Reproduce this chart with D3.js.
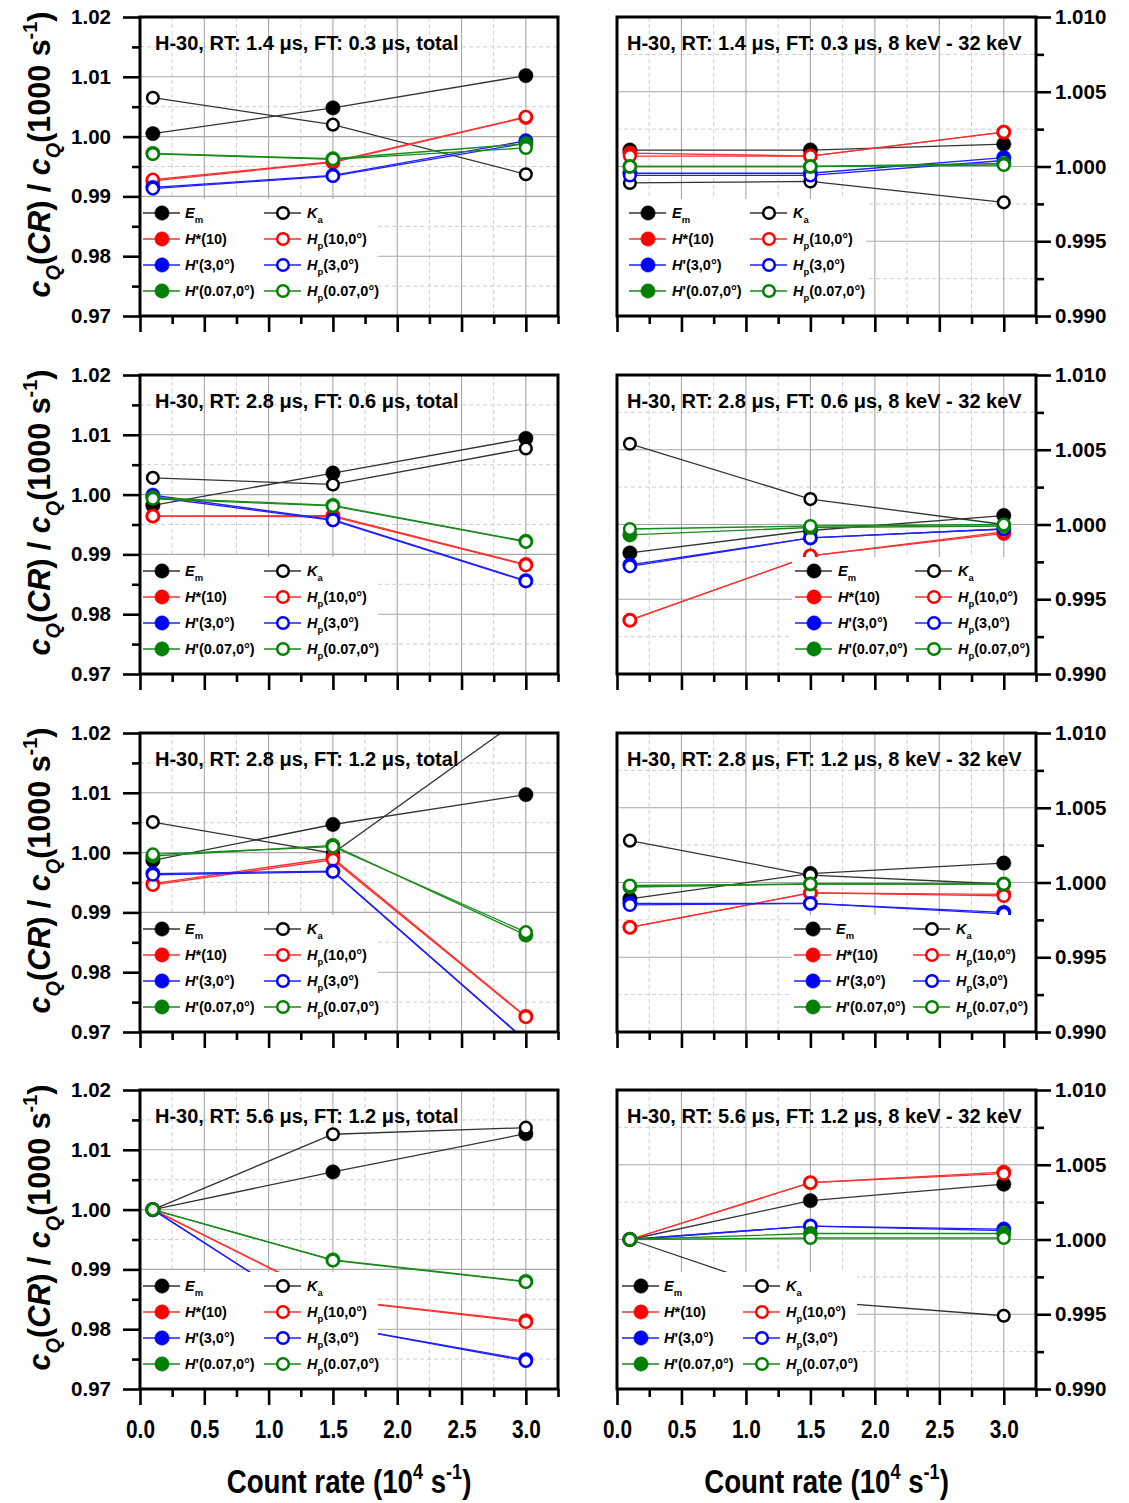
<!DOCTYPE html>
<html><head><meta charset="utf-8">
<script src="https://cdn.jsdelivr.net/npm/d3@7"></script>
<style>body{margin:0;background:#fff}</style>
</head><body><svg id="c" width="1129" height="1503"></svg>
<script>
// ---------------- data ----------------
const countRates = [0.1, 1.5, 3.0];
const seriesKeys = ["Em", "Ka", "H*(10)", "Hp(10,0°)", "H'(3,0°)", "Hp(3,0°)", "H'(0.07,0°)", "Hp(0.07,0°)"];
const xTickLabels = ["0.0", "0.5", "1.0", "1.5", "2.0", "2.5", "3.0"];
const yTickLabelsTotal = ["0.97", "0.98", "0.99", "1.00", "1.01", "1.02"];
const yTickLabelsBand = ["0.990", "0.995", "1.000", "1.005", "1.010"];
const panelTitles = [
  "H-30, RT: 1.4 \u03bcs, FT: 0.3 \u03bcs, total",
  "H-30, RT: 1.4 \u03bcs, FT: 0.3 \u03bcs, 8 keV - 32 keV",
  "H-30, RT: 2.8 \u03bcs, FT: 0.6 \u03bcs, total",
  "H-30, RT: 2.8 \u03bcs, FT: 0.6 \u03bcs, 8 keV - 32 keV",
  "H-30, RT: 2.8 \u03bcs, FT: 1.2 \u03bcs, total",
  "H-30, RT: 2.8 \u03bcs, FT: 1.2 \u03bcs, 8 keV - 32 keV",
  "H-30, RT: 5.6 \u03bcs, FT: 1.2 \u03bcs, total",
  "H-30, RT: 5.6 \u03bcs, FT: 1.2 \u03bcs, 8 keV - 32 keV"
];
// each: [Em, Ka, H*(10), Hp(10), H'(3), Hp(3), H'(0.07), Hp(0.07)] at countRates
const rt14ft03_total = [
  [1.0005, 1.0048, 1.0102], [1.0065, 1.0020, 0.9937],
  [0.9926, 0.9957, 1.0032], [0.9928, 0.9958, 1.0033],
  [0.9915, 0.9935, 0.9993], [0.9913, 0.9934, 0.9989],
  [0.9972, 0.9963, 0.9988], [0.9971, 0.9962, 0.9981]
];
const rt14ft03_band = [
  [1.0011, 1.0011, 1.0015], [0.9989, 0.9990, 0.9976],
  [1.0009, 1.0007, 1.0023], [1.0007, 1.0007, 1.0023],
  [0.99955, 0.99955, 1.0006], [0.9994, 0.9994, 1.0004],
  [1.0000, 1.0000, 1.0002], [1.0000, 1.0000, 1.0001]
];
const rt28ft06_total = [
  [0.9982, 1.0036, 1.0094], [1.0028, 1.0017, 1.0077],
  [0.9964, 0.9965, 0.9883], [0.9964, 0.9963, 0.9882],
  [0.9999, 0.9958, 0.9856], [0.9996, 0.9957, 0.9855],
  [0.9995, 0.9982, 0.9922], [0.9993, 0.9981, 0.9921]
];
const rt28ft06_band = [
  [0.9981, 0.9996, 1.0006], [1.0054, 1.0017, 1.0000],
  [0.9936, 0.9979, 0.9994], [0.9936, 0.9979, 0.9995],
  [0.9973, 0.9991, 0.9997], [0.9972, 0.9991, 0.9997],
  [0.9993, 0.9998, 0.9999], [0.9997, 0.9999, 1.0000]
];
const rt28ft12_total = [
  [0.9987, 1.0047, 1.0097], [1.0051, 0.9999, 1.0230],
  [0.9948, 0.9991, 0.9726], [0.9946, 0.9988, 0.9725],
  [0.9965, 0.9969, 0.9686], [0.9963, 0.9968, 0.9685],
  [0.9994, 1.0012, 0.9862], [0.9997, 1.0010, 0.9867]
];
const rt28ft12_band = [
  [0.9989, 1.0006, 1.0013], [1.0028, 1.0005, 0.9999],
  [0.9970, 0.9993, 0.9992], [0.9970, 0.9993, 0.9991],
  [0.9986, 0.9986, 0.9980], [0.9985, 0.9986, 0.9979],
  [0.9997, 0.9999, 0.9999], [0.9998, 0.9999, 0.9999]
];
const rt56ft12_total = [
  [1.0000, 1.0063, 1.0127], [1.0000, 1.0126, 1.0137],
  [1.0000, 0.9850, 0.9814], [1.0000, 0.9849, 0.9812],
  [1.0000, 0.9806, 0.9749], [1.0000, 0.9806, 0.9747],
  [1.0000, 0.9916, 0.9880], [1.0000, 0.9915, 0.9879]
];
const rt56ft12_band = [
  [1.0000, 1.0026, 1.0037], [1.0000, 0.9959, 0.9949],
  [1.0000, 1.0038, 1.0045], [1.0000, 1.0038, 1.0044],
  [1.0000, 1.0009, 1.0007], [1.0000, 1.0009, 1.0006],
  [1.0000, 1.0004, 1.0004], [1.0000, 1.0001, 1.0001]
];
const panelData = [rt14ft03_total, rt14ft03_band, rt28ft06_total, rt28ft06_band,
                   rt28ft12_total, rt28ft12_band, rt56ft12_total, rt56ft12_band];

// ---------------- styles / layout ----------------
const colors = ["#000", "#000", "#ff0000", "#ff0000", "#0000ff", "#0000ff", "#008000", "#008000"];
const lineColors = ["#333", "#333", "#ff3030", "#ff3030", "#2020ff", "#2020ff", "#1a8a1a", "#1a8a1a"];
const filled = [true, false, true, false, true, false, true, false];
const legendLabels = [
  [{t: "E", it: 1}, {t: "m", sub: 1}],
  [{t: "K", it: 1}, {t: "a", sub: 1}],
  [{t: "H", it: 1}, {t: "*(10)"}],
  [{t: "H", it: 1}, {t: "p", sub: 1}, {t: "(10,0°)"}],
  [{t: "H", it: 1}, {t: "'(3,0°)"}],
  [{t: "H", it: 1}, {t: "p", sub: 1}, {t: "(3,0°)"}],
  [{t: "H", it: 1}, {t: "'(0.07,0°)"}],
  [{t: "H", it: 1}, {t: "p", sub: 1}, {t: "(0.07,0°)"}]
];
const FONT = "'Liberation Sans', Arial, sans-serif";

const cols = [{L: 140, R: 558}, {L: 617, R: 1036}];
const rows = [{T: 17, B: 316}, {T: 375, B: 674}, {T: 733, B: 1032}, {T: 1090, B: 1389}];
const legendLeft = {x0: 140, x1: 378, m1: 162, l1: 185, m2: 283, l2: 307};
const legendRight = [
  {x0: 617, x1: 866, m1: 648, l1: 672, m2: 769, l2: 793},
  {x0: 791, x1: 1036, m1: 814, l1: 838, m2: 934, l2: 958},
  {x0: 791, x1: 1036, m1: 813, l1: 836, m2: 932, l2: 956},
  {x0: 617, x1: 857, m1: 641, l1: 664, m2: 762, l2: 786}
];

const svg = d3.select("#c");
svg.append("rect").attr("width", 1129).attr("height", 1503).attr("fill", "#fff");

function richText(sel, parts, size) {
  let shift = 0;
  parts.forEach(p => {
    const ts = sel.append("tspan").text(p.t);
    const target = p.sub ? size * 0.32 : (p.sup ? -size * 0.42 : 0);
    if (target !== shift) { ts.attr("dy", target - shift); shift = target; }
    if (p.it) ts.attr("font-style", "italic");
    if (p.sub || p.sup) ts.attr("font-size", size * 0.65);
  });
}

function range(a, b, s) { const out = []; for (let v = a; v <= b + 1e-9; v += s) out.push(+v.toFixed(5)); return out; }

const xMajor = xTickLabels.map(Number);
const xMinor = range(0.25, 3.25, 0.5);

panelData.forEach((data, idx) => {
  const col = idx % 2, row = Math.floor(idx / 2);
  const {L, R} = cols[col], {T, B} = rows[row];
  const total = col === 0;
  const yLabels = total ? yTickLabelsTotal : yTickLabelsBand;
  const yMajor = yLabels.map(Number);
  const yMinor = total ? range(0.975, 1.015, 0.01) : range(0.9925, 1.0075, 0.005);
  const x = d3.scaleLinear().domain([0, 3.25]).range([L, R]);
  const y = d3.scaleLinear().domain([yMajor[0], yMajor[yMajor.length - 1]]).range([B, T]);
  const g = svg.append("g");

  // grid
  const grid = g.append("g");
  grid.selectAll(".gmx").data(xMinor).join("line")
    .attr("x1", d => x(d)).attr("x2", d => x(d)).attr("y1", T).attr("y2", B)
    .attr("stroke", "#cfcfcf").attr("stroke-width", 1).attr("stroke-dasharray", "4,3");
  grid.selectAll(".gmy").data(yMinor).join("line")
    .attr("y1", d => y(d)).attr("y2", d => y(d)).attr("x1", L).attr("x2", R)
    .attr("stroke", "#cfcfcf").attr("stroke-width", 1).attr("stroke-dasharray", "4,3");
  grid.selectAll(".gx").data(xMajor.slice(1)).join("line")
    .attr("x1", d => x(d)).attr("x2", d => x(d)).attr("y1", T).attr("y2", B)
    .attr("stroke", "#a8a8a8").attr("stroke-width", 1.1);
  grid.selectAll(".gy").data(yMajor.slice(1, -1)).join("line")
    .attr("y1", d => y(d)).attr("y2", d => y(d)).attr("x1", L).attr("x2", R)
    .attr("stroke", "#a8a8a8").attr("stroke-width", 1.1);

  // clip
  const cid = "clip" + idx;
  svg.append("clipPath").attr("id", cid).append("rect")
    .attr("x", L).attr("y", T).attr("width", R - L).attr("height", B - T);
  const plot = g.append("g").attr("clip-path", `url(#${cid})`);
  const line = d3.line().x((d, i) => x(countRates[i])).y(d => y(d));
  data.forEach((vals, s) => {
    const sg = plot.append("g");
    sg.append("path").attr("d", line(vals)).attr("fill", "none")
      .attr("stroke", lineColors[s]).attr("stroke-width", 1.3);
    sg.selectAll("circle").data(vals).join("circle")
      .attr("cx", (d, i) => x(countRates[i])).attr("cy", d => y(d))
      .attr("r", filled[s] ? 7.2 : 5.8)
      .attr("fill", filled[s] ? colors[s] : "#fff")
      .attr("stroke", colors[s]).attr("stroke-width", filled[s] ? 0.5 : 2.5);
  });

  // legend
  const lc = total ? legendLeft : legendRight[row];
  const lg = g.append("g");
  lg.append("rect").attr("x", lc.x0 + 1).attr("y", B - 117).attr("width", lc.x1 - lc.x0 - 1).attr("height", 116)
    .attr("fill", "#fff");
  const rowOff = [103, 77, 51, 25];
  seriesKeys.forEach((k, s) => {
    const c = s % 2, r = Math.floor(s / 2);
    const cy = B - rowOff[r];
    const mx = c === 0 ? lc.m1 : lc.m2, lx = c === 0 ? lc.l1 : lc.l2;
    lg.append("line").attr("x1", mx - 19).attr("x2", mx + 18).attr("y1", cy).attr("y2", cy)
      .attr("stroke", lineColors[s]).attr("stroke-width", 1.3);
    lg.append("circle").attr("cx", mx).attr("cy", cy).attr("r", filled[s] ? 7.2 : 5.8)
      .attr("fill", filled[s] ? colors[s] : "#fff").attr("stroke", colors[s])
      .attr("stroke-width", filled[s] ? 0.5 : 2.5);
    const t = lg.append("text").attr("x", lx).attr("y", cy + 5)
      .attr("font-family", FONT).attr("font-weight", "bold").attr("font-size", 14.5).attr("fill", "#000");
    richText(t, legendLabels[s], 14.5);
  });

  // frame
  g.append("rect").attr("x", L).attr("y", T).attr("width", R - L).attr("height", B - T)
    .attr("fill", "none").attr("stroke", "#000").attr("stroke-width", 3);

  // axes
  const xa = g.append("g").attr("transform", `translate(0,${B})`)
    .call(d3.axisBottom(x).tickValues(xMajor).tickSize(16).tickPadding(15)
      .tickFormat((d, i) => row === 3 ? xTickLabels[i] : ""));
  const xm = g.append("g").attr("transform", `translate(0,${B})`)
    .call(d3.axisBottom(x).tickValues(xMinor).tickSize(8).tickFormat(""));
  let ya, ym;
  if (total) {
    ya = g.append("g").attr("transform", `translate(${L},0)`)
      .call(d3.axisLeft(y).tickValues(yMajor).tickSize(17).tickPadding(12).tickFormat((d, i) => yLabels[i]));
    ym = g.append("g").attr("transform", `translate(${L},0)`)
      .call(d3.axisLeft(y).tickValues(yMinor).tickSize(8).tickFormat(""));
  } else {
    ya = g.append("g").attr("transform", `translate(${R},0)`)
      .call(d3.axisRight(y).tickValues(yMajor).tickSize(15).tickPadding(4).tickFormat((d, i) => yLabels[i]));
    ym = g.append("g").attr("transform", `translate(${R},0)`)
      .call(d3.axisRight(y).tickValues(yMinor).tickSize(8).tickFormat(""));
  }
  [xa, xm, ya, ym].forEach(a => {
    a.select(".domain").remove();
    a.selectAll(".tick line").attr("stroke", "#000").attr("stroke-width", 2.6);
  });
  xa.selectAll("text").attr("font-family", FONT).attr("font-weight", "bold")
    .attr("font-size", 26).attr("fill", "#000").attr("transform", "scale(0.8,1)");
  ya.selectAll("text").attr("font-family", FONT).attr("font-weight", "bold")
    .attr("font-size", 20.5).attr("fill", "#000");

  // panel title
  g.append("text").attr("x", L + (total ? 15 : 10)).attr("y", T + 33)
    .attr("font-family", FONT).attr("font-weight", "bold").attr("font-size", 20)
    .attr("fill", "#000").text(panelTitles[idx]);

  // y-axis title (left column only)
  if (total) {
    const yt = g.append("text")
      .attr("transform", `translate(50,${(T + B) / 2 - 12}) rotate(-90)`)
      .attr("text-anchor", "middle").attr("font-family", FONT).attr("font-weight", "bold")
      .attr("font-size", 30.5).attr("fill", "#000");
    richText(yt, [{t: "c", it: 1}, {t: "Q", sub: 1, it: 1}, {t: "("}, {t: "CR", it: 1}, {t: ") / "},
      {t: "c", it: 1}, {t: "Q", sub: 1, it: 1}, {t: "(1000 s"}, {t: "-1", sup: 1}, {t: ")"}], 30.5);
  }
});

// x-axis titles
cols.forEach(c => {
  const t = svg.append("text")
    .attr("transform", `translate(${(c.L + c.R) / 2},1493) scale(0.84,1)`)
    .attr("text-anchor", "middle").attr("font-family", FONT).attr("font-weight", "bold")
    .attr("font-size", 33).attr("fill", "#000");
  richText(t, [{t: "Count rate (10"}, {t: "4", sup: 1}, {t: " s"}, {t: "-1", sup: 1}, {t: ")"}], 33);
});
</script></body></html>
